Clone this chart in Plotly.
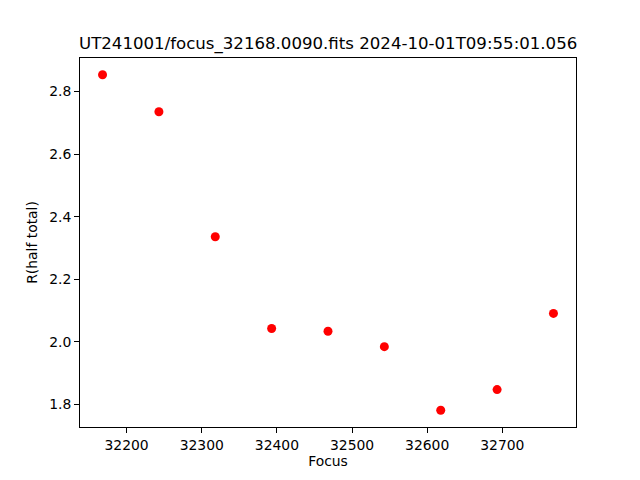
import plotly.graph_objects as go

focus = [32168, 32243, 32318, 32393, 32468, 32543, 32618, 32693, 32768]
r_half = [2.853, 2.735, 2.336, 2.043, 2.034, 1.985, 1.782, 1.848, 2.091]
title_text = "UT241001/focus_32168.0090.fits 2024-10-01T09:55:01.056"

xmin, xmax = min(focus), max(focus)
ymin, ymax = min(r_half), max(r_half)
xm = 0.05 * (xmax - xmin)
ym = 0.05 * (ymax - ymin)

fig = go.Figure(go.Scatter(
    x=focus, y=r_half, mode="markers",
    marker=dict(color="red", size=9, line=dict(width=0)),
))

font = dict(family="DejaVu Sans", size=13.9, color="black")
axis_common = dict(
    showline=True, linecolor="black", linewidth=1, mirror=True,
    ticks="outside", ticklen=5, tickwidth=1, tickcolor="black",
    showgrid=False, zeroline=False, tickfont=font, automargin=False,
)
fig.update_layout(
    width=640, height=480,
    margin=dict(l=72, r=72, t=50, b=61),
    paper_bgcolor="white", plot_bgcolor="white",
    showlegend=False,
    font=font,
    xaxis=dict(range=[xmin - xm, xmax + xm], dtick=100, tick0=32000, tickformat="d",
               title=dict(text="Focus", font=font, standoff=4), **axis_common),
    yaxis=dict(range=[ymin - ym, ymax + ym], dtick=0.2, tick0=0, tickformat=".1f",
               title=dict(text="R(half total)", font=font, standoff=8), **axis_common),
    annotations=[dict(text=title_text, xref="paper", yref="paper", x=0.5, y=1,
                      xanchor="center", yanchor="bottom", yshift=2, showarrow=False,
                      font=dict(family="DejaVu Sans", size=16.6, color="black"))],
)
fig.write_html("out.html")
